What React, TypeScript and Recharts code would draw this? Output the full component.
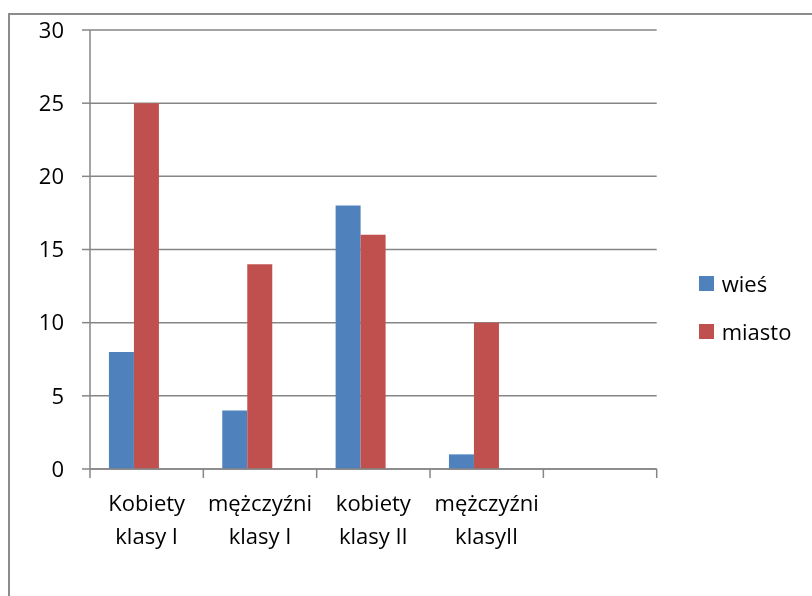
import React from "react";
import { BarChart, Bar, XAxis, YAxis, CartesianGrid, Legend } from "recharts";

const categories: string[] = [
  "Kobiety\nklasy I",
  "mężczyźni\nklasy I",
  "kobiety\nklasy II",
  "mężczyźni\nklasyII",
  "",
];
const wies: (number | null)[] = [8, 4, 18, 1, null];
const miasto: (number | null)[] = [25, 14, 16, 10, null];
const trzecia: (number | null)[] = [null, null, null, null, null];
const seriesNames: string[] = ["wieś", "miasto"];
const yTicks: number[] = [0, 5, 10, 15, 20, 25, 30];

const COLORS = ["#4F81BD", "#C0504D"];
const GRID = "#868686";
const FONT = "'Open Sans', sans-serif";

const data = categories.map((c, i) => ({
  cat: c,
  wies: wies[i],
  miasto: miasto[i],
  trzecia: trzecia[i],
}));

const CatTick = (props: any) => {
  const { x, y, payload, index, visibleTicksCount } = props;
  const half = payload && typeof payload.offset === "number" ? payload.offset : 0;
  const lines = String(payload.value).split("\n");
  const isLast = index === (visibleTicksCount ?? categories.length) - 1;
  return (
    <g>
      <line x1={x - half} x2={x - half} y1={y} y2={y + 9} stroke={GRID} strokeWidth={1.5} />
      {isLast && <line x1={x + half} x2={x + half} y1={y} y2={y + 9} stroke={GRID} strokeWidth={1.5} />}
      <text x={x} y={y} textAnchor="middle" fill="#000" fontSize={22} fontFamily={FONT}>
        {lines.map((l, i) => (
          <tspan key={i} x={x} dy={i === 0 ? 42 : 33.4}>
            {l}
          </tspan>
        ))}
      </text>
    </g>
  );
};

const LegendContent = () => (
  <div style={{ fontFamily: FONT, fontSize: 22, color: "#000" }}>
    {seriesNames.map((n, i) => (
      <div
        key={n}
        style={{
          display: "flex",
          alignItems: "center",
          height: 15,
          marginBottom: i === 0 ? 33.3 : 0,
        }}
      >
        <span style={{ display: "inline-block", width: 15, height: 15, background: COLORS[i] }} />
        <span style={{ marginLeft: 7.7, lineHeight: "15px", whiteSpace: "nowrap" }}>{n}</span>
      </div>
    ))}
  </div>
);

export default function App() {
  return (
    <div style={{ position: "relative", width: 796, height: 580 }}>
      <div
        style={{
          position: "fixed",
          left: 8,
          top: 13,
          width: 900,
          height: 900,
          borderLeft: "2px solid #8c8c8c",
          borderTop: "2px solid #8c8c8c",
          boxSizing: "border-box",
        }}
      />
      <BarChart
        width={796}
        height={580}
        data={data}
        margin={{ top: 22, right: 147.3, bottom: 39, left: 0 }}
        barCategoryGap="16.7%"
        barGap={0}
        style={{ fontFamily: FONT }}
      >
        <CartesianGrid vertical={false} stroke={GRID} strokeWidth={1.5} />
        <XAxis
          dataKey="cat"
          type="category"
          interval={0}
          tick={<CatTick />}
          tickLine={false}
          tickSize={0}
          tickMargin={0}
          axisLine={{ stroke: GRID, strokeWidth: 1.5 }}
          height={80}
        />
        <YAxis
          domain={[0, 30]}
          ticks={yTicks}
          interval={0}
          width={82}
          tickSize={8}
          tickMargin={18}
          axisLine={{ stroke: GRID, strokeWidth: 1.5 }}
          tickLine={{ stroke: GRID, strokeWidth: 1.5 }}
          tick={{ fill: "#000", fontSize: 22, fontFamily: FONT }}
        />
        <Legend
          layout="horizontal"
          align="center"
          verticalAlign="middle"
          content={<LegendContent />}
          wrapperStyle={{ position: "absolute", left: 691, top: 268, width: 110, height: 70 }}
        />
        <Bar dataKey="wies" name={seriesNames[0]} fill={COLORS[0]} isAnimationActive={false} />
        <Bar dataKey="miasto" name={seriesNames[1]} fill={COLORS[1]} isAnimationActive={false} />
        <Bar dataKey="trzecia" legendType="none" fill="#9BBB59" isAnimationActive={false} />
      </BarChart>
    </div>
  );
}
